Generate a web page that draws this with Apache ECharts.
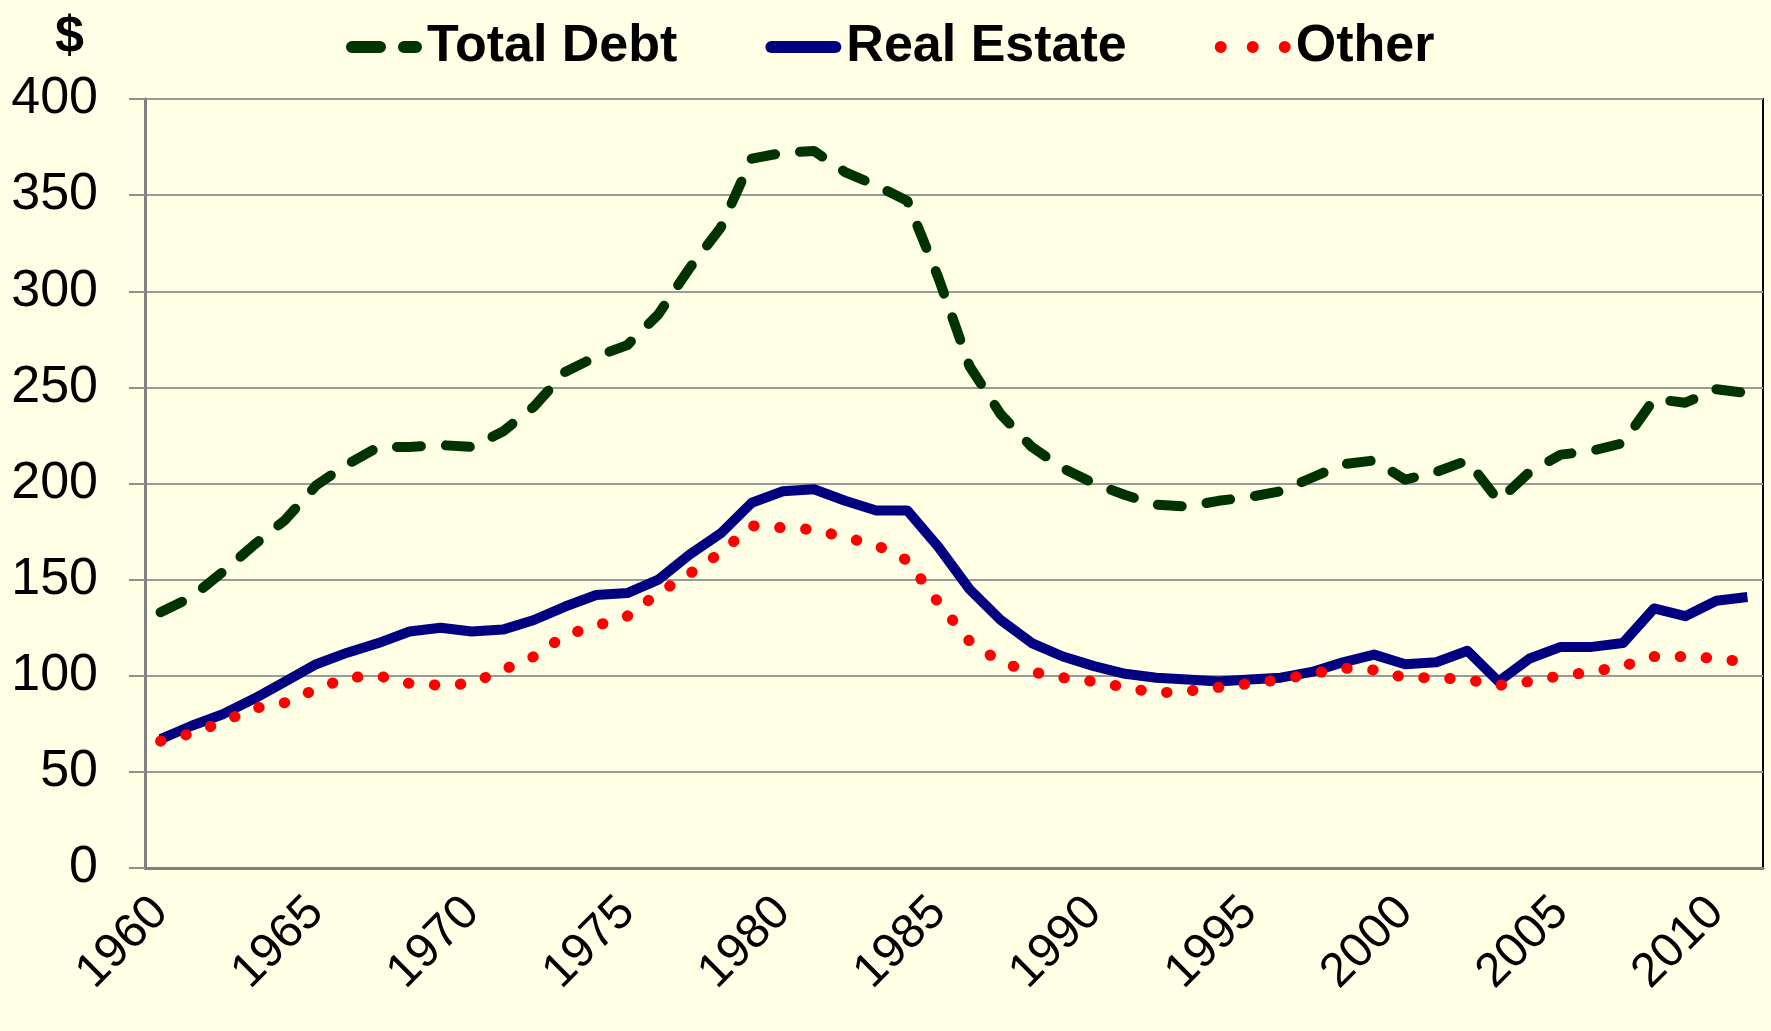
<!DOCTYPE html>
<html>
<head>
<meta charset="utf-8">
<script src="https://cdn.jsdelivr.net/npm/echarts@6/dist/echarts.min.js"></script>
<style>
  html, body { margin: 0; padding: 0; background: #FFFFE6; }
  #main { width: 1771px; height: 1031px; }
</style>
</head>
<body>
<div id="main"></div>
<script>
// years 1960 .. 2011
var years = [];
for (var y = 1960; y <= 2011; y++) years.push(String(y));

var totalDebt = [133, 141, 154, 168, 181, 199, 210, 219, 219, 220,
                 219, 227, 240, 258, 266, 272, 288, 312, 333, 369,
                 372, 373, 362, 355, 347, 307, 261, 236, 219, 208,
                 200, 194, 189, 188, 191, 193, 196, 203, 210, 212,
                 202, 206, 212, 191, 206, 215, 217, 221, 244, 242,
                 249, 247];

var realEstate = [67, 74, 80, 88, 97, 106, 112, 117, 123, 125,
                  123, 124, 129, 136, 142, 143, 150, 163, 174, 190,
                  196, 197, 191, 186, 186, 167, 145, 129, 117, 110,
                  105, 101, 99, 98, 97, 98, 99, 102, 107, 111,
                  106, 107, 113, 97, 109, 115, 115, 117, 135, 131,
                  139, 141];

var other = [66, 70, 76, 83, 86, 93, 99, 100, 96, 95,
             96, 103, 110, 121, 126, 131, 143, 153, 164, 178,
             177, 176, 172, 168, 160, 138, 118, 107, 102, 99,
             97, 94, 91, 92, 94, 96, 98, 101, 104, 103,
             99, 99, 98, 95, 97, 100, 102, 105, 110, 110,
             109, 107];

// legend icons (dash / solid / dots)
var iconDash = 'path://M6,0 L34,0 A6,6 0 0 1 34,12 L6,12 A6,6 0 0 1 6,0 Z M58,0 L70,0 A6,6 0 0 1 70,12 L58,12 A6,6 0 0 1 58,0 Z';
var iconSolid = 'path://M6,0 L70,0 A6,6 0 0 1 70,12 L6,12 A6,6 0 0 1 6,0 Z';
var iconDots = 'path://M0,6 A6,6 0 1 1 12,6 A6,6 0 1 1 0,6 Z M32,6 A6,6 0 1 1 44,6 A6,6 0 1 1 32,6 Z M64,6 A6,6 0 1 1 76,6 A6,6 0 1 1 64,6 Z';

var chart = echarts.init(document.getElementById('main'));

var option = {
  backgroundColor: '#FFFFE6',
  animation: false,
  textStyle: { fontFamily: 'Liberation Sans, Arial, sans-serif' },
  graphic: [{
    type: 'text',
    left: 55,
    top: 12,
    style: {
      text: '$',
      font: 'bold 52px "Liberation Sans", Arial, sans-serif',
      fill: '#000'
    }
  }],
  legend: {
    top: 16,
    left: 341,
    itemWidth: 76,
    itemHeight: 12,
    itemGap: 88,
    textStyle: {
      fontSize: 52,
      fontWeight: 'bold',
      color: '#000',
      fontFamily: 'Liberation Sans, Arial, sans-serif'
    },
    data: [
      { name: 'Total Debt', icon: iconDash },
      { name: 'Real Estate', icon: iconSolid },
      { name: 'Other', icon: iconDots }
    ]
  },
  grid: {
    left: 145,
    right: 8,
    top: 99,
    bottom: 163,
    show: true,
    borderColor: '#000',
    borderWidth: 2,
    backgroundColor: '#FFFFE6'
  },
  xAxis: {
    type: 'category',
    data: years,
    boundaryGap: true,
    axisLine: { lineStyle: { color: '#808080', width: 3 } },
    axisTick: {
      interval: 1,
      length: 15,
      lineStyle: { color: '#909090', width: 2 }
    },
    axisLabel: {
      interval: 4,
      rotate: 45,
      margin: 37,
      fontSize: 48,
      color: '#000'
    }
  },
  yAxis: {
    type: 'value',
    min: 0,
    max: 400,
    interval: 50,
    axisLine: { show: true, lineStyle: { color: '#808080', width: 3 } },
    axisTick: { show: true, length: 16, lineStyle: { color: '#909090', width: 2 } },
    axisLabel: { fontSize: 52, color: '#000', margin: 47 },
    splitLine: { lineStyle: { color: '#9A9A9A', width: 2 } }
  },
  series: [
    {
      name: 'Total Debt',
      type: 'line',
      data: totalDebt,
      symbol: 'none',
      color: '#003300',
      lineStyle: { color: '#003300', width: 10, type: [24, 25], cap: 'round', join: 'round' },
      z: 3
    },
    {
      name: 'Real Estate',
      type: 'line',
      data: realEstate,
      symbol: 'none',
      color: '#000080',
      lineStyle: { color: '#000080', width: 10, join: 'round' },
      z: 2
    },
    {
      name: 'Other',
      type: 'line',
      data: other,
      symbol: 'none',
      color: '#FF0000',
      lineStyle: { color: '#FF0000', width: 11, type: [0.5, 25.5], cap: 'round' },
      z: 4
    }
  ]
};

chart.setOption(option);
</script>
</body>
</html>
